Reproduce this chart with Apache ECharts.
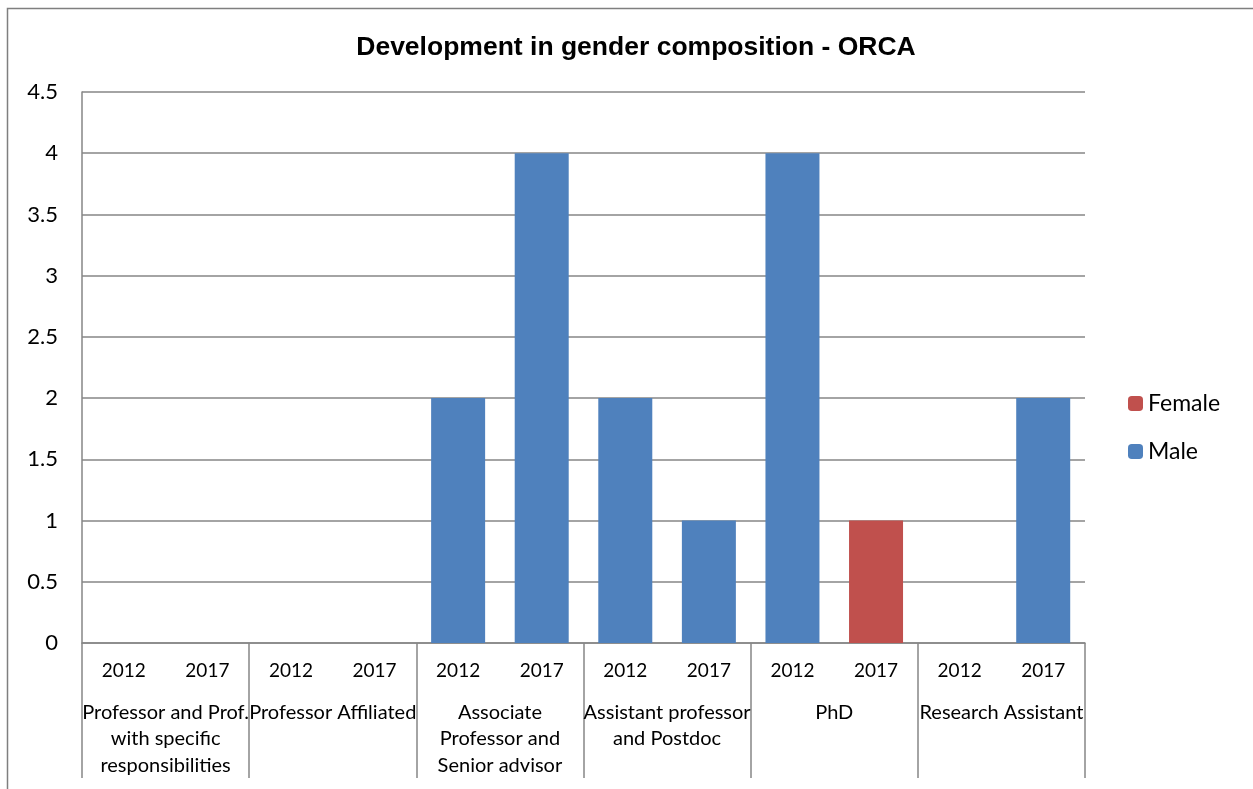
<!DOCTYPE html>
<html>
<head>
<meta charset="utf-8">
<script src="https://cdn.jsdelivr.net/npm/echarts@6/dist/echarts.min.js"></script>
<style>
  html, body { margin: 0; padding: 0; background: #fff; }
  #chart { width: 1253px; height: 789px; }
</style>
</head>
<body>
<div id="chart"></div>
<script>
const years = ['2012', '2017', '2012', '2017', '2012', '2017', '2012', '2017', '2012', '2017', '2012', '2017']
const groups = [
  'Professor and Prof.\nwith specific\nresponsibilities',
  'Professor Affiliated',
  'Associate\nProfessor and\nSenior advisor',
  'Assistant professor\nand Postdoc',
  'PhD',
  'Research Assistant'
]
const female = [0, 0, 0, 0, 0, 0, 0, 0, 0, 1, 0, 0]
const male = [0, 0, 0, 0, 2, 4, 2, 1, 4, 0, 0, 2]

const font = 'Lato, "Open Sans", sans-serif'
const grey = '#868686'

const option = {
  animation: false,
  title: {
    text: 'Development in gender composition - ORCA',
    left: 631,
    top: 29,
    textAlign: 'center',
    textStyle: { fontFamily: '"Liberation Sans", Arial, sans-serif', fontWeight: 'bold', fontSize: 26.5, color: '#000' }
  },
  legend: {
    orient: 'vertical',
    left: 1123,
    top: 387,
    itemWidth: 15,
    itemHeight: 15,
    itemGap: 25,
    data: ['Female', 'Male'],
    textStyle: { fontFamily: font, fontSize: 23, color: '#000' }
  },
  grid: { left: 82, right: 168, top: 92, bottom: 146 },
  xAxis: [
    {
      type: 'category',
      data: years,
      axisLine: { lineStyle: { color: grey, width: 1.5 } },
      axisTick: { show: false },
      axisLabel: { interval: 0, margin: 18, fontFamily: font, fontSize: 19, color: '#000' }
    },
    {
      type: 'category',
      data: groups,
      position: 'bottom',
      axisLine: { show: false },
      axisTick: { show: true, length: 135, lineStyle: { color: grey, width: 1.5 } },
      axisLabel: {
        interval: 0, margin: 56, fontFamily: font, fontSize: 20, lineHeight: 26.5,
        color: '#000', verticalAlign: 'top'
      }
    }
  ],
  yAxis: {
    type: 'value',
    min: 0,
    max: 4.5,
    interval: 0.5,
    axisLine: { show: true, lineStyle: { color: grey, width: 1.5 } },
    axisTick: { show: false },
    splitLine: { lineStyle: { color: grey, width: 1.5 } },
    axisLabel: { margin: 24, fontFamily: font, fontSize: 22, color: '#000' }
  },
  graphic: [{
    type: 'rect',
    shape: { x: 7.5, y: 8.5, width: 1400, height: 900 },
    style: { fill: 'none', stroke: '#7f7f7f', lineWidth: 1.5 },
    silent: true
  }],
  series: [
    { name: 'Male', type: 'bar', stack: 'g', barWidth: 54, data: male, itemStyle: { color: '#4F81BD' } },
    { name: 'Female', type: 'bar', stack: 'g', barWidth: 54, data: female, itemStyle: { color: '#C0504D' } }
  ]
}

const chart = echarts.init(document.getElementById('chart'))
chart.setOption(option)
</script>
</body>
</html>
